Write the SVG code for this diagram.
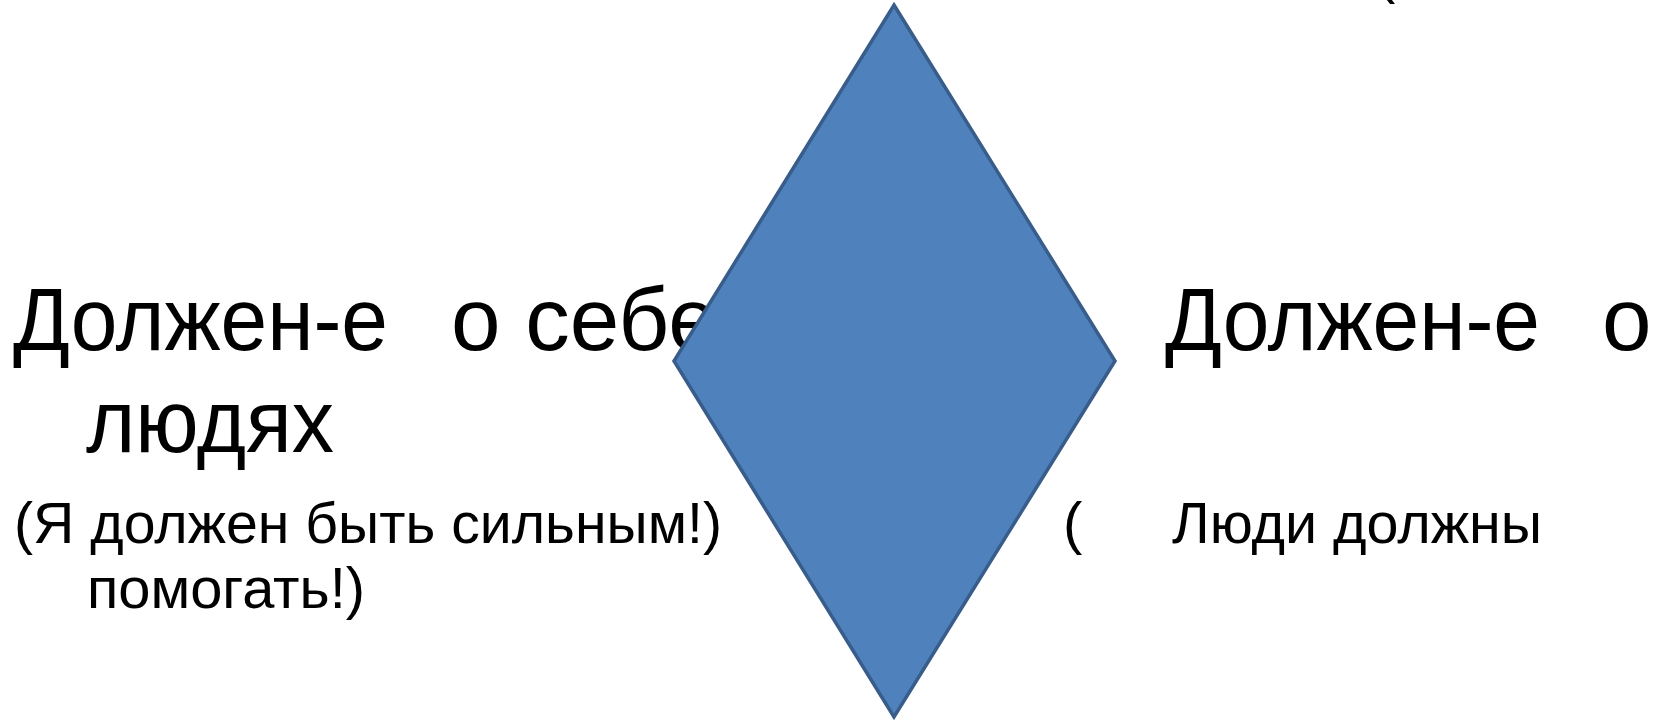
<svg xmlns="http://www.w3.org/2000/svg" width="1654" height="722" viewBox="0 0 1654 722">
<style>
text{font-family:"Liberation Sans",Arial,sans-serif;fill:#000;white-space:pre}
.big{font-size:89px}
.small{font-size:58px}
.shape{fill:#4F81BD;stroke:#385D8A;stroke-width:3.5}
</style>
<rect width="1654" height="722" fill="#fff"/>
<g id="left-text">
<text class="big" y="350"><tspan x="13" textLength="375" lengthAdjust="spacingAndGlyphs">Должен-е</tspan><tspan x="451">о себе</tspan></text>
<text class="big" x="86" y="452" textLength="248" lengthAdjust="spacingAndGlyphs">людях</text>
<text class="small" x="14" y="543" textLength="708" lengthAdjust="spacingAndGlyphs">(Я должен быть сильным!)</text>
<text class="small" x="87" y="608" textLength="278" lengthAdjust="spacingAndGlyphs">помогать!)</text>
</g>
<g id="right-text">
<text class="small" x="1376" y="-8">(</text>
<text class="big" y="350"><tspan x="1165" textLength="375" lengthAdjust="spacingAndGlyphs">Должен-е</tspan><tspan x="1602">о</tspan></text>
<text class="small" x="1063" y="543">(</text>
<text class="small" x="1172" y="543" textLength="370" lengthAdjust="spacingAndGlyphs">Люди должны</text>
</g>
<g id="diamond">
<polygon class="shape" points="894,5 1115,361 894,717 674,361"/>
</g>
<g id="connectors"></g>
</svg>
